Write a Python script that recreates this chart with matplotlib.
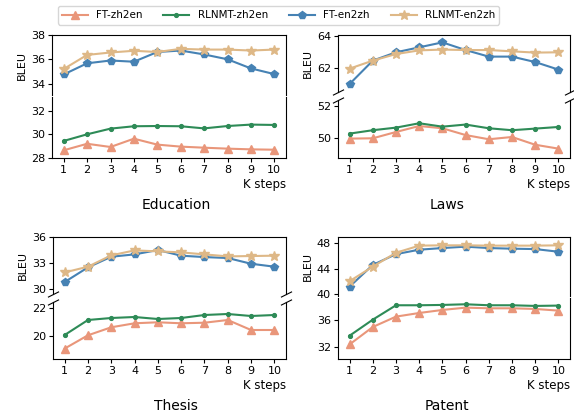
import matplotlib
matplotlib.use("Agg")
import matplotlib.pyplot as plt
from matplotlib.lines import Line2D

W, H = 574, 419

steps = list(range(1, 11))
series_names = ["FT-zh2en", "RLNMT-zh2en", "FT-en2zh", "RLNMT-en2zh"]
colors = ["#E9967A", "#2E8B57", "#4682B4", "#DEB887"]
markers = ["^", ".", "p", "*"]

# Education
edu_ft_zh2en = [28.65, 29.2, 28.93, 29.63, 29.13, 28.96, 28.87, 28.79, 28.73, 28.7]
edu_rl_zh2en = [29.44, 30.0, 30.48, 30.68, 30.7, 30.68, 30.5, 30.7, 30.82, 30.79]
edu_ft_en2zh = [34.75, 35.67, 35.9, 35.8, 36.6, 36.72, 36.4, 36.0, 35.25, 34.78]
edu_rl_en2zh = [35.2, 36.36, 36.56, 36.7, 36.6, 36.86, 36.8, 36.8, 36.72, 36.8]

# Laws
law_ft_zh2en = [49.98, 50.0, 50.39, 50.76, 50.62, 50.2, 49.94, 50.08, 49.6, 49.36]
law_rl_zh2en = [50.29, 50.5, 50.66, 50.93, 50.72, 50.85, 50.62, 50.5, 50.6, 50.7]
law_ft_en2zh = [60.98, 62.44, 62.96, 63.27, 63.58, 63.1, 62.69, 62.69, 62.35, 61.88]
law_rl_en2zh = [61.94, 62.44, 62.85, 63.08, 63.13, 63.1, 63.1, 63.02, 62.94, 62.96]

# Thesis
the_ft_zh2en = [19.14, 20.07, 20.63, 20.91, 20.98, 20.91, 20.95, 21.14, 20.44, 20.44]
the_rl_zh2en = [20.09, 21.14, 21.28, 21.35, 21.21, 21.28, 21.49, 21.56, 21.42, 21.49]
the_ft_en2zh = [30.77, 32.46, 33.69, 33.96, 34.46, 33.81, 33.65, 33.54, 32.88, 32.54]
the_rl_en2zh = [31.88, 32.54, 33.85, 34.42, 34.31, 34.19, 33.96, 33.73, 33.77, 33.81]

# Patent
pat_ft_zh2en = [32.35, 34.99, 36.56, 37.11, 37.57, 37.92, 37.82, 37.82, 37.72, 37.47]
pat_rl_zh2en = [33.67, 36.1, 38.28, 38.28, 38.33, 38.43, 38.28, 38.28, 38.18, 38.23]
pat_ft_en2zh = [41.17, 44.59, 46.29, 46.99, 47.25, 47.47, 47.25, 47.15, 47.09, 46.67]
pat_rl_en2zh = [42.03, 44.32, 46.51, 47.63, 47.68, 47.68, 47.63, 47.63, 47.63, 47.68]

panels = [
    dict(title="Education", data=[edu_ft_zh2en, edu_rl_zh2en, edu_ft_en2zh, edu_rl_en2zh],
         x=(52, 286), top=(35, 95), bot=(97, 158), ytop=(33.06, 38.0), ybot=(28.0, 33.15),
         ttop=[34, 36, 38], tbot=[28, 30, 32], marks=False, tx=176, ty=205),
    dict(title="Laws", data=[law_ft_zh2en, law_rl_zh2en, law_ft_en2zh, law_rl_en2zh],
         x=(338, 570), top=(35, 92), bot=(100, 158), ytop=(60.48, 64.04), ybot=(48.78, 52.37),
         ttop=[62, 64], tbot=[50, 52], marks=True, tx=447, ty=205),
    dict(title="Thesis", data=[the_ft_zh2en, the_rl_zh2en, the_ft_en2zh, the_rl_en2zh],
         x=(53, 286), top=(236.7, 294), bot=(302, 359), ytop=(29.39, 36.0), ybot=(18.41, 22.4),
         ttop=[30, 33, 36], tbot=[20, 22], marks=True, tx=176, ty=406),
    dict(title="Patent", data=[pat_ft_zh2en, pat_rl_zh2en, pat_ft_en2zh, pat_rl_en2zh],
         x=(338, 570), top=(236.7, 296), bot=(298, 359), ytop=(39.69, 49.04), ybot=(30.14, 39.38),
         ttop=[40, 44, 48], tbot=[32, 36], marks=False, tx=447, ty=406),
]

msizes = [6, 5.5, 5.5, 7]

def px_axes(fig, x, y):
    return fig.add_axes([x[0] / W, 1 - y[1] / H, (x[1] - x[0]) / W, (y[1] - y[0]) / H])

fig = plt.figure(figsize=(W / 100, H / 100), dpi=100)

for p in panels:
    ax1 = px_axes(fig, p["x"], p["top"])
    ax2 = px_axes(fig, p["x"], p["bot"])
    for ax in (ax1, ax2):
        for vals, c, m, ms in zip(p["data"], colors, markers, msizes):
            ax.plot(steps, vals, color=c, marker=m, markersize=ms, linewidth=1.5)
        ax.set_xlim(0.5, 10.5)
        ax.tick_params(labelsize=8, length=3, pad=2)
        for s in ax.spines.values():
            s.set_linewidth(0.8)
    ax1.set_ylim(*p["ytop"])
    ax2.set_ylim(*p["ybot"])
    ax1.set_yticks(p["ttop"])
    ax2.set_yticks(p["tbot"])
    ax1.spines["bottom"].set_visible(False)
    ax2.spines["top"].set_visible(False)
    ax1.tick_params(bottom=False, labelbottom=False)
    ax2.set_xticks(steps)
    ax1.set_ylabel("BLEU", fontsize=8, labelpad=3)
    ax2.set_xlabel("K steps", fontsize=8.5, loc="right", labelpad=2)
    if p["marks"]:
        d = 0.5
        kw = dict(marker=[(-1, -d), (1, d)], markersize=8, linestyle="none",
                  color="k", mec="k", mew=0.8, clip_on=False)
        ax1.plot([0, 1], [0, 0], transform=ax1.transAxes, **kw)
        ax2.plot([0, 1], [1, 1], transform=ax2.transAxes, **kw)
    fig.text(p["tx"] / W, 1 - p["ty"] / H, p["title"], fontsize=10, ha="center", va="center")

handles = [Line2D([], [], color=c, marker=m, markersize=ms, linewidth=1.5)
           for c, m, ms in zip(colors, markers, msizes)]
fig.legend(handles, series_names, loc="upper center", ncol=4, fontsize=7.5,
           bbox_to_anchor=(278.5 / W, 1 - 1 / H), frameon=True, handlelength=2.5,
           columnspacing=2.0, borderpad=0.4)

fig.savefig("out.png", dpi=100)
